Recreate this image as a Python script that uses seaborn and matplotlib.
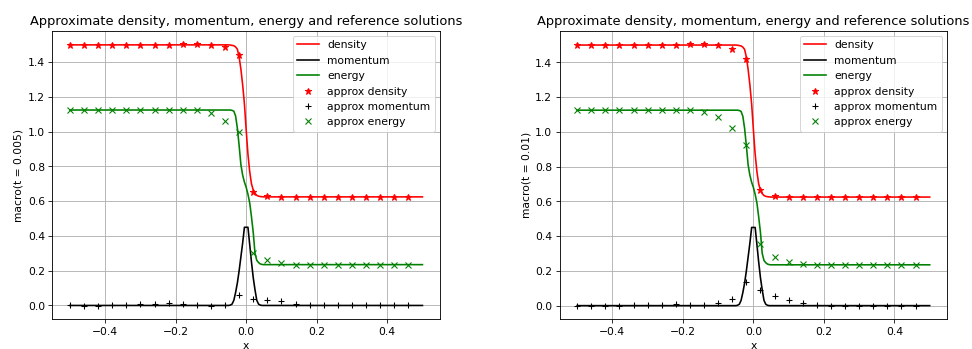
import numpy as np
import matplotlib
matplotlib.use("Agg")
import matplotlib.pyplot as plt
import seaborn as sns

# reference solution (same on both panels)
x_ref = [-0.5, -0.06, -0.055, -0.05, -0.045, -0.04, -0.035, -0.03, -0.025, -0.02,
         -0.015, -0.01, -0.005, 0.0, 0.005, 0.01, 0.015, 0.02, 0.025, 0.03,
         0.035, 0.04, 0.045, 0.05, 0.055, 0.06, 0.5]
rho_ref = [1.5, 1.5, 1.5, 1.5, 1.499, 1.497, 1.495, 1.488, 1.475, 1.43,
           1.36, 1.27, 1.16, 1.01, 0.87, 0.77, 0.70, 0.665, 0.645, 0.634,
           0.629, 0.627, 0.626, 0.625, 0.625, 0.625, 0.625]
mom_ref = [0.0, 0.0, 0.0, 0.0, 0.002, 0.008, 0.03, 0.075, 0.13, 0.20,
           0.28, 0.36, 0.45, 0.45, 0.45, 0.35, 0.25, 0.16, 0.09, 0.03,
           0.008, 0.002, 0.0, 0.0, 0.0, 0.0, 0.0]
en_ref = [1.125, 1.125, 1.125, 1.125, 1.125, 1.123, 1.118, 1.09, 1.02, 0.92,
          0.81, 0.75, 0.71, 0.68, 0.64, 0.59, 0.51, 0.42, 0.30, 0.26,
          0.247, 0.239, 0.236, 0.235, 0.235, 0.235, 0.235]

# approximate solution sample points
x_pts = [-0.5, -0.46, -0.42, -0.38, -0.34, -0.3, -0.26, -0.22, -0.18, -0.14,
         -0.1, -0.06, -0.02, 0.02, 0.06, 0.1, 0.14, 0.18, 0.22, 0.26,
         0.3, 0.34, 0.38, 0.42, 0.46]

# t = 0.005
rho_a1 = [1.5, 1.5, 1.5, 1.5, 1.5, 1.5, 1.5, 1.502, 1.507, 1.507,
          1.5, 1.485, 1.444, 0.652, 0.628, 0.625, 0.625, 0.625, 0.625, 0.625,
          0.625, 0.625, 0.625, 0.625, 0.625]
mom_a1 = [0.0, -0.004, -0.002, 0.0, 0.005, 0.008, 0.011, 0.013, 0.009, 0.002,
          -0.001, 0.0, 0.058, 0.038, 0.033, 0.023, 0.01, 0.004, 0.0, 0.0,
          0.0, 0.0, 0.0, 0.0, 0.0]
en_a1 = [1.127, 1.127, 1.127, 1.127, 1.127, 1.127, 1.127, 1.127, 1.127, 1.123,
         1.106, 1.063, 0.998, 0.30, 0.26, 0.242, 0.235, 0.235, 0.235, 0.235,
         0.235, 0.235, 0.235, 0.235, 0.235]

# t = 0.01
rho_a2 = [1.5, 1.5, 1.5, 1.5, 1.5, 1.5, 1.5, 1.502, 1.508, 1.508,
          1.5, 1.475, 1.421, 0.663, 0.631, 0.625, 0.625, 0.625, 0.625, 0.625,
          0.625, 0.625, 0.625, 0.625, 0.625]
mom_a2 = [0.0, -0.003, -0.003, 0.0, 0.001, 0.003, 0.005, 0.007, 0.006, 0.005,
          0.013, 0.038, 0.138, 0.09, 0.058, 0.033, 0.013, 0.004, 0.0, -0.002,
          -0.002, 0.0, 0.0, 0.0, 0.0]
en_a2 = [1.127, 1.127, 1.127, 1.127, 1.127, 1.127, 1.127, 1.127, 1.127, 1.115,
         1.087, 1.023, 0.927, 0.356, 0.279, 0.252, 0.238, 0.235, 0.235, 0.235,
         0.235, 0.235, 0.235, 0.235, 0.235]

panels = [("macro(t = 0.005)", rho_a1, mom_a1, en_a1),
          ("macro(t = 0.01)", rho_a2, mom_a2, en_a2)]

# source was drawn a bit larger than 72 dpi, so scale text and lines
k = 1.08
plt.rcParams["font.size"] = 10 * k
plt.rcParams["axes.titlesize"] = 12 * k
plt.rcParams["lines.linewidth"] = 1.5 * k
plt.rcParams["axes.linewidth"] = 0.8 * k
plt.rcParams["grid.linewidth"] = 0.8 * k
plt.rcParams["xtick.major.size"] = 3.5 * k
plt.rcParams["ytick.major.size"] = 3.5 * k

fig, axes = plt.subplots(1, 2, figsize=(13.5, 4.85), dpi=72)
fig.subplots_adjust(left=0.0538, right=0.9746, bottom=0.0851, top=0.912, wspace=0.308)

ms = 6 * k
for ax, (ylab, rho_a, mom_a, en_a) in zip(axes, panels):
    sns.lineplot(x=x_ref, y=rho_ref, color="red", label="density", ax=ax)
    sns.lineplot(x=x_ref, y=mom_ref, color="black", label="momentum", ax=ax)
    sns.lineplot(x=x_ref, y=en_ref, color="green", label="energy", ax=ax)
    sns.lineplot(x=x_pts, y=rho_a, color="red", marker="*", linestyle="",
                 markeredgecolor="red", markeredgewidth=k, markersize=ms,
                 label="approx density", ax=ax)
    sns.lineplot(x=x_pts, y=mom_a, color="black", marker="+", linestyle="",
                 markeredgecolor="black", markeredgewidth=k, markersize=ms,
                 label="approx momentum", ax=ax)
    sns.lineplot(x=x_pts, y=en_a, color="green", marker="x", linestyle="",
                 markeredgecolor="green", markeredgewidth=k, markersize=ms,
                 label="approx energy", ax=ax)
    ax.set_title("Approximate density, momentum, energy and reference solutions")
    ax.set_xlabel("x")
    ax.set_ylabel(ylab)
    ax.grid(True)
    ax.legend(loc="upper right")

plt.savefig("out.png", dpi=72)
